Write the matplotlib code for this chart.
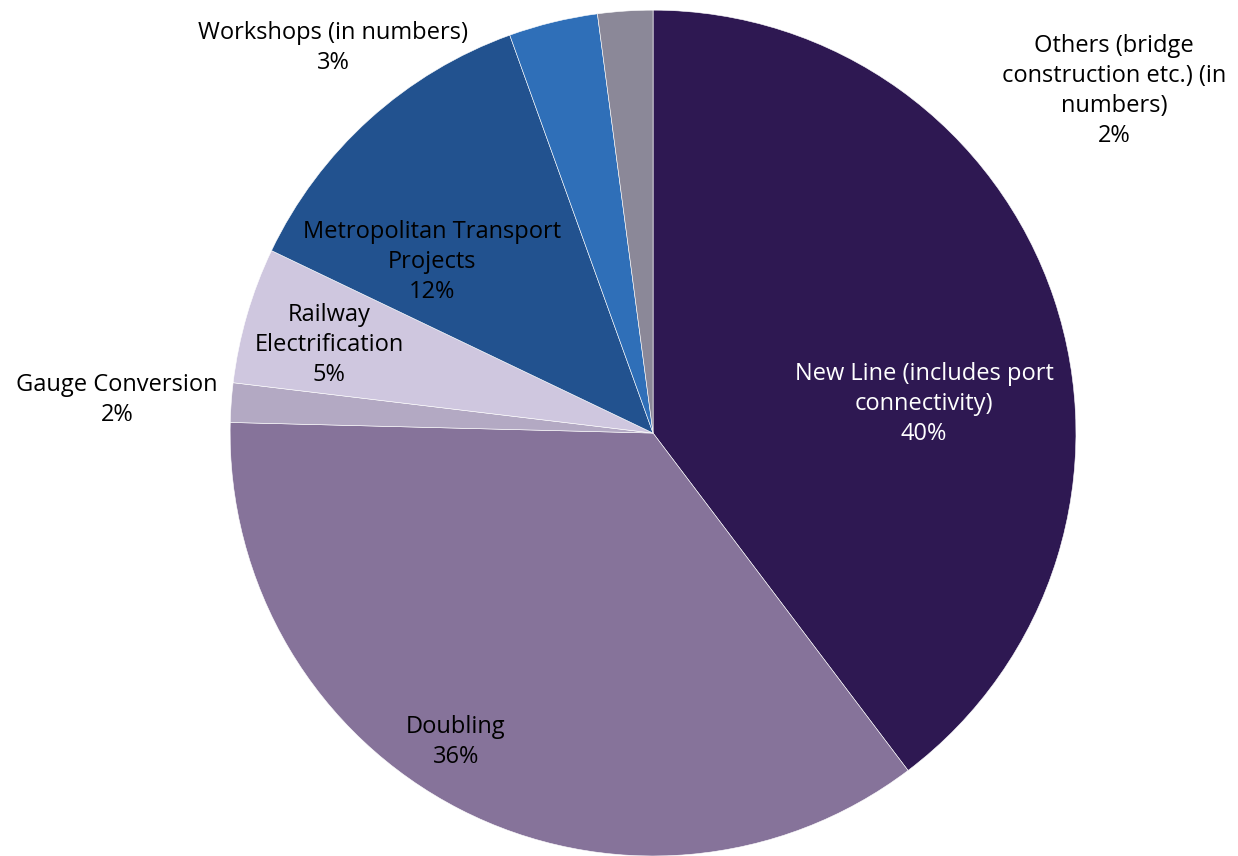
import matplotlib.pyplot as plt

plt.rcParams['font.family'] = ['Open Sans', 'DejaVu Sans']

categories = ["New Line (includes port\nconnectivity)", "Doubling", "Gauge Conversion",
              "Railway\nElectrification", "Metropolitan Transport\nProjects",
              "Workshops (in numbers)", "Others (bridge\nconstruction etc.) (in\nnumbers)"]
shares = [39.7, 35.7, 1.5, 5.2, 12.4, 3.4, 2.1]
colors = ['#2E1852', '#86739A', '#B3A9C3', '#CFC7DF', '#22528F', '#2F6FB8', '#8B8898']
text_colors = ['white', 'black', 'black', 'black', 'black', 'black', 'black']

# label centres (in pie radius units), picked to match the original layout
label_pos = [(0.641, 0.069), (-0.466, -0.730), (-1.267, 0.078), (-0.766, 0.208),
             (-0.522, 0.404), (-0.757, 0.910), (1.090, 0.809)]

fig = plt.figure(figsize=(12.38, 8.56), dpi=100)
ax = fig.add_axes([0, 0, 1, 1])

wedges, _ = ax.pie(shares, colors=colors, startangle=90, counterclock=False,
                   radius=1, wedgeprops=dict(edgecolor='white', linewidth=0.4))

total = sum(shares)
for name, val, pos, tc in zip(categories, shares, label_pos, text_colors):
    ax.text(pos[0], pos[1], f"{name}\n{val / total * 100:.0f}%", ha='center', va='center',
            fontsize=17, color=tc, linespacing=1.33)

ax.set_xlim(-1.544, 1.383)
ax.set_ylim(-1.0, 1.024)
ax.set_aspect('equal')
ax.axis('off')

plt.savefig('out.png', dpi=100)
